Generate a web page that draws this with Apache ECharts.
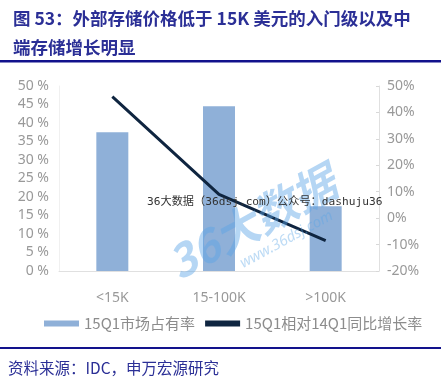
<!DOCTYPE html>
<html><head><meta charset="utf-8">
<script src="https://cdn.jsdelivr.net/npm/echarts@6/dist/echarts.min.js"></script>
<style>html,body{margin:0;padding:0;background:#fff}#c{width:441px;height:379px}</style>
</head><body><div id="c"></div>
<script>
const categories = ['<15K', '15-100K', '>100K'];
const shareValues = [37.5, 44.5, 17.5];
const growthValues = [46, 9, -8.5];
const seriesNames = ['15Q1市场占有率', '15Q1相对14Q1同比增长率'];
const titleText = '图 53：外部存储价格低于 15K 美元的入门级以及中\n端存储增长明显';
const sourceText = '资料来源：IDC，申万宏源研究';
const watermarkText = '36大数据（36dsj.com）公众号：dashuju36';

const chart = echarts.init(document.getElementById('c'), null, {renderer: 'canvas'});
const axisLabel = {color: '#999', fontSize: 14, fontFamily: 'Noto Sans, sans-serif'};
chart.setOption({
  animation: false,
  backgroundColor: '#fff',
  title: {
    text: titleText, left: 8, top: -1,
    textStyle: {color: '#2b2f96', fontSize: 17.5, fontWeight: 'bold', lineHeight: 29, fontFamily: 'Noto Sans CJK SC'}
  },
  grid: {left: 59, right: 62, top: 86, bottom: 108},
  legend: {
    left: 39, top: 311, itemGap: 10,
    textStyle: {color: '#8c8c8c', fontSize: 15, fontFamily: 'Noto Sans CJK SC'},
    data: [
      {name: seriesNames[0], icon: 'rect', itemStyle: {color: '#8fb0d8'}},
      {name: seriesNames[1], icon: 'rect', itemStyle: {color: '#0f2540'}}
    ],
    itemWidth: 35, itemHeight: 6
  },
  xAxis: {
    type: 'category', data: categories,
    axisLine: {lineStyle: {color: '#e0e0e0'}},
    axisTick: {show: false},
    axisLabel: Object.assign({}, axisLabel, {margin: 20})
  },
  yAxis: [
    {type: 'value', min: 0, max: 50, interval: 5,
     axisLine: {show: true, lineStyle: {color: '#f0f0f0'}},
     axisTick: {show: false}, splitLine: {show: false},
     axisLabel: Object.assign({}, axisLabel, {formatter: '{value} %', margin: 10})},
    {type: 'value', min: -20, max: 50, interval: 10,
     axisLine: {show: true, lineStyle: {color: '#e0e0e0'}},
     axisTick: {show: true, inside: true, length: 3, lineStyle: {color: '#d8d8d8'}},
     splitLine: {show: false},
     axisLabel: Object.assign({}, axisLabel, {formatter: '{value}%', margin: 8})}
  ],
  series: [
    {name: seriesNames[0], type: 'bar', data: shareValues, yAxisIndex: 0,
     barWidth: 32, itemStyle: {color: '#8fb0d8'}},
    {name: seriesNames[1], type: 'line', data: growthValues, yAxisIndex: 1,
     symbol: 'none', lineStyle: {color: '#0f2540', width: 3}, itemStyle: {color: '#0f2540'}}
  ],
  graphic: [
    {type: 'rect', left: 0, top: 60, z: 100, shape: {width: 441, height: 2.5}, style: {fill: '#12128c'}},
    {type: 'rect', left: 0, top: 347, z: 100, shape: {width: 441, height: 2}, style: {fill: '#12128c'}},
    {type: 'text', left: 8, top: 360, z: 100, style: {text: sourceText, fill: '#2b2f96', fontSize: 15.5, fontFamily: 'Noto Sans CJK SC'}},
    {type: 'group', x: 252, y: 222, rotation: 0.5, z: 100, children: [
      {type: 'text', z: 100, style: {text: '36大数据', x: 0, y: 0, align: 'center', verticalAlign: 'middle', fill: 'rgba(90,165,230,0.45)', fontSize: 44, fontWeight: 'bold', fontStyle: 'italic', fontFamily: 'Noto Sans CJK SC'}},
      {type: 'text', z: 100, style: {text: 'www.36dsj.com', x: 22, y: 32, align: 'center', verticalAlign: 'middle', fill: 'rgba(90,165,230,0.4)', fontSize: 15, fontStyle: 'italic', fontFamily: 'Noto Sans'}}
    ]},
    {type: 'text', left: 147, top: 196, z: 101, style: {text: watermarkText, fill: '#333', fontSize: 11.2, fontFamily: 'DejaVu Sans Mono, Noto Sans CJK SC'}}
  ]
});
</script></body></html>
